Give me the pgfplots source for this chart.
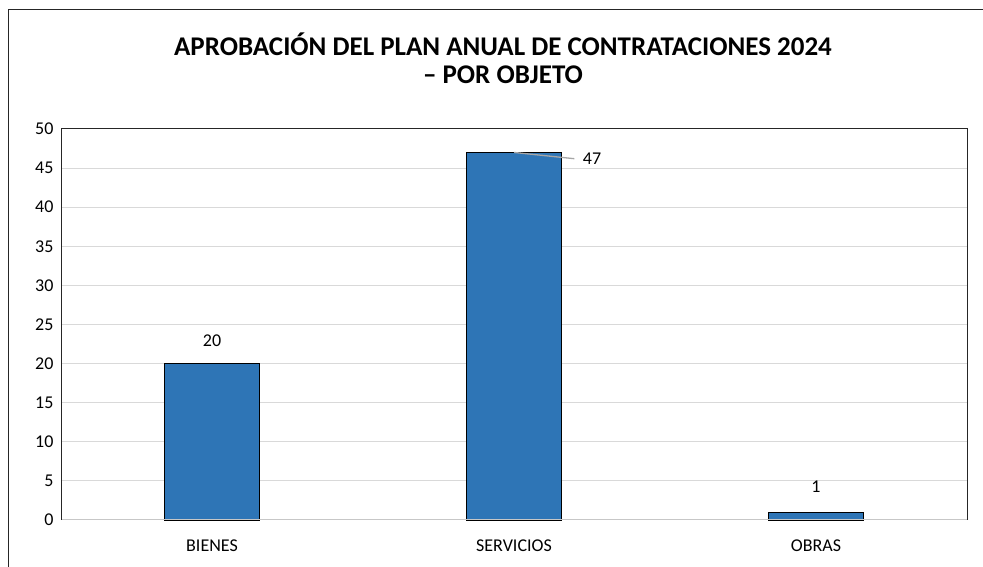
\documentclass[border=0pt]{standalone}
\usepackage{pgfplots}
\usepackage{pgfplotstable}
\pgfplotsset{compat=1.18}
\usepackage{fontspec}
\setmainfont{Carlito}
\definecolor{barblue}{HTML}{2E75B6}
\definecolor{gridgray}{HTML}{D9D9D9}
\pgfplotstableread{
x y dx dy
0 20 0 23
1 47 78 -6.5
2 1 0 25
}\datatable
\begin{document}
\begin{tikzpicture}[x=1bp,y=1bp]
\useasboundingbox (0,0) rectangle (983,567);
\draw[line width=1bp, black!85] (8,0) -- (8,557) -- (983,557);
\node[font=\fontsize{27bp}{32bp}\selectfont\bfseries] at (503,523) {APROBACIÓN DEL PLAN ANUAL DE CONTRATACIONES 2024};
\node[font=\fontsize{27bp}{32bp}\selectfont\bfseries] at (503,492) {– POR OBJETO};
\begin{axis}[
  at={(61bp,47bp)}, anchor=south west,
  scale only axis, width=906bp, height=391bp,
  xmin=-0.5, xmax=2.5, ymin=0, ymax=50,
  xtick={0,1,2}, xticklabels={BIENES,SERVICIOS,OBRAS},
  ytick={0,5,...,50},
  major tick length=0pt,
  ymajorgrids, grid style={gridgray, line width=1bp},
  axis line style={draw=none},
  tick label style={font=\fontsize{18bp}{21bp}\selectfont},
  /pgf/number format/assume math mode=true,
  yticklabel style={xshift=-4bp},
  xticklabel style={yshift=-16bp},
  clip=false,
]
\addplot[ybar, bar width=95bp, fill=barblue, draw=black, line width=0.8bp,
  visualization depends on={\thisrow{dx} \as \dx},
  visualization depends on={\thisrow{dy} \as \dy},
  nodes near coords,
  nodes near coords align={center},
  every node near coord/.append style={font=\fontsize{18bp}{21bp}\selectfont, black, anchor=center, xshift=\dx*1bp, yshift=\dy*1bp},
] table[x=x, y=y] {\datatable};
\draw[gray!70, line width=1.3bp] (axis cs:1,47) -- (axis cs:1.2,46.2);
\draw[line width=1bp, gridgray!80!gray] (axis cs:-0.5,0) -- (axis cs:2.5,0);
\draw[line width=1bp, black!85] (axis cs:-0.5,0) -- (axis cs:-0.5,50) -- (axis cs:2.5,50) -- (axis cs:2.5,0);
\end{axis}
\end{tikzpicture}
\end{document}
